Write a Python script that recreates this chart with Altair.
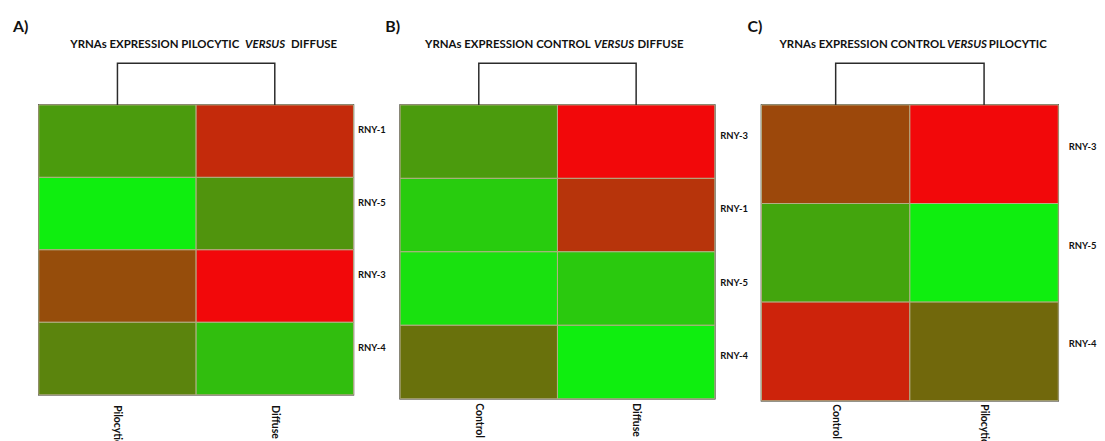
import altair as alt
import pandas as pd

# ---------------- data ----------------
panel_labels = ["A)", "B)", "C)"]
title_left = ["YRNAs EXPRESSION PILOCYTIC", "YRNAs EXPRESSION CONTROL", "YRNAs EXPRESSION CONTROL"]
title_mid = ["VERSUS", "VERSUS", "VERSUS"]
title_right = ["DIFFUSE", "DIFFUSE", "PILOCYTIC"]

genes_a = ["RNY-1", "RNY-5", "RNY-3", "RNY-4"]
groups_a = ["Pilocytic", "Diffuse"]
a_pilocytic = [-0.37, -1.0, 0.30, -0.20]
a_diffuse = [0.65, -0.32, 1.0, -0.64]

genes_b = ["RNY-3", "RNY-1", "RNY-5", "RNY-4"]
groups_b = ["Control", "Diffuse"]
b_control = [-0.37, -0.74, -0.90, -0.05]
b_diffuse = [1.0, 0.55, -0.72, -1.0]

genes_c = ["RNY-3", "RNY-5", "RNY-4"]
groups_c = ["Control", "Pilocytic"]
c_control = [0.35, -0.45, 0.72]
c_pilocytic = [1.0, -1.0, 0.02]

# ---------------- style ----------------
FONT = "Lato"
GREEN, MID, RED = "#0fee0f", "#6e6a0c", "#f2080a"
TXT = "#111111"


def text_layer(txt, x, y, size, style="normal", align="center"):
    return alt.Chart(pd.DataFrame({"t": [txt]})).mark_text(
        font=FONT, fontSize=size, fontWeight="bold", fontStyle=style,
        align=align, baseline="middle", color=TXT
    ).encode(text="t:N", x=alt.value(x), y=alt.value(y))


def panel(i, genes, groups, v1, v2, width, height, geo):
    n = len(genes)
    df = pd.DataFrame({
        "gene": genes * 2,
        "group": [groups[0]] * n + [groups[1]] * n,
        "value": list(v1) + list(v2),
    })
    heat = alt.Chart(df).mark_rect(stroke="#b4ae86", strokeWidth=1).encode(
        x=alt.X("group:N", sort=groups, title=None,
                scale=alt.Scale(type="band", paddingInner=0, paddingOuter=0),
                axis=alt.Axis(orient="bottom", labelAngle=90, labelAlign="left",
                              labelBaseline="middle", domain=False, ticks=False,
                              labelPadding=geo["xpad"], labelFont=FONT,
                              labelFontWeight="bold", labelFontSize=10.5, labelColor=TXT)),
        y=alt.Y("gene:N", sort=genes, title=None,
                scale=alt.Scale(paddingInner=0, paddingOuter=0),
                axis=alt.Axis(orient="right", domain=False, ticks=False,
                              labelPadding=geo["ypad"], labelOffset=geo["yoff"], labelFont=FONT,
                              labelFontWeight="bold", labelFontSize=9.5, labelColor=TXT)),
        color=alt.Color("value:Q",
                        scale=alt.Scale(domain=[-1, 0, 1], range=[GREEN, MID, RED], interpolate="rgb"),
                        legend=None),
    )
    dend_df = pd.DataFrame({
        "group": [groups[0], groups[0], groups[1], groups[1]],
        "level": [0, 1, 1, 0],
        "step": [0, 1, 2, 3],
    })
    dend = alt.Chart(dend_df).mark_line(color="#2b2b2b", strokeWidth=1.5).encode(
        x=alt.X("group:N", sort=groups),
        y=alt.Y("level:Q", scale=alt.Scale(domain=[0, 1], range=[0, -geo["dend"]], nice=False, zero=False), axis=None),
        order="step:Q",
    )
    texts = [
        text_layer(panel_labels[i], geo["lab_x"], -78, 16, align="left"),
        text_layer(title_left[i], geo["t_left"], -60, 11.5, align="right"),
        text_layer(title_mid[i], geo["t_mid"], -60, 11.5, style="italic", align="center"),
        text_layer(title_right[i], geo["t_right"], -60, 11.5, align="left"),
    ]
    return alt.layer(heat, dend, *texts).resolve_scale(y="independent").properties(width=width, height=height)


pA = panel(0, genes_a, groups_a, a_pilocytic, a_diffuse, 317, 292,
           dict(xpad=10, ypad=4, yoff=-11, dend=42, lab_x=-26, t_left=202, t_mid=228, t_right=254))
pB = panel(1, genes_b, groups_b, b_control, b_diffuse, 317, 296,
           dict(xpad=4, ypad=5, yoff=-6, dend=42, lab_x=-15, t_left=192, t_mid=215.5, t_right=239))
pC = panel(2, genes_c, groups_c, c_control, c_pilocytic, 299, 298,
           dict(xpad=3, ypad=10, yoff=-7, dend=42, lab_x=-14, t_left=185, t_mid=207, t_right=229))

chart = alt.hconcat(pA, pB, pC, spacing=47, bounds="flush").properties(
    padding={"left": 4, "top": 9, "right": 0, "bottom": 0},
    background="white",
).configure_view(stroke="#1a1a1a", strokeWidth=1.5)

chart.save("out.html", embed_options={"renderer": "svg", "actions": False})
